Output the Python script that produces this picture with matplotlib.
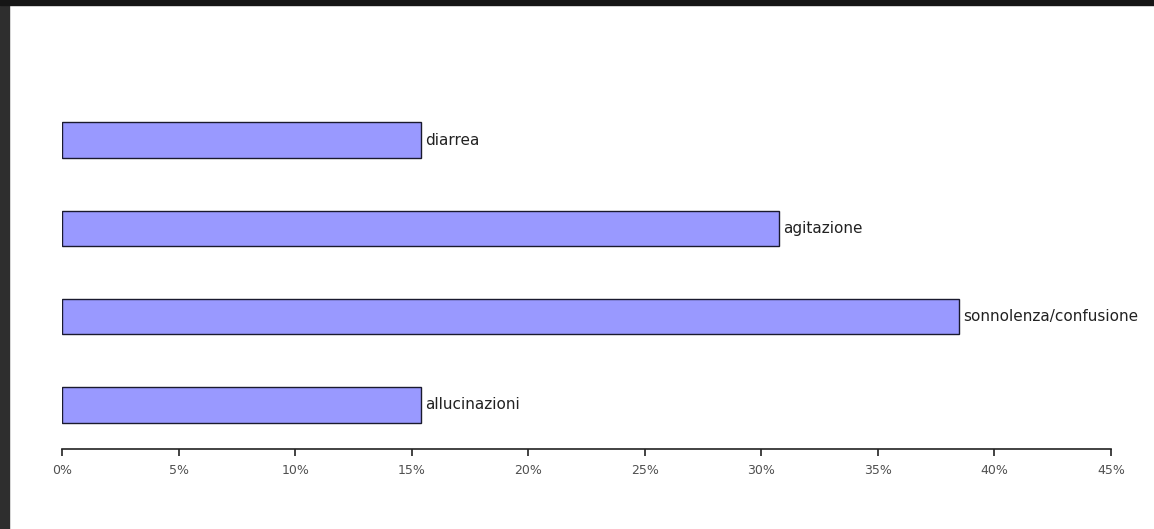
import matplotlib
matplotlib.use("Agg")
import matplotlib.pyplot as plt
from matplotlib.patches import Rectangle
from matplotlib.ticker import FuncFormatter, MultipleLocator

# data (share of patients, %)
categories = ["allucinazioni", "sonnolenza/confusione", "agitazione", "diarrea"]
values = [15.38, 38.46, 30.77, 15.38]

fig = plt.figure(figsize=(11.54, 5.29), dpi=100)
fig.patch.set_facecolor("white")

# dark screenshot frame on the top and left edges
fig.patches.append(Rectangle((0, 0), 9 / 1154, 1, transform=fig.transFigure,
                             color="#2e2e2e", zorder=0))
fig.patches.append(Rectangle((0, 1 - 5 / 529), 1, 5 / 529, transform=fig.transFigure,
                             color="#161616", zorder=0))

ax = fig.add_axes([62 / 1154, 80 / 529, (1111 - 62) / 1154, (449 - 96) / 529])

pos = range(len(categories))
ax.barh(pos, values, height=0.4, color="#9999ff", edgecolor="#1a1a2e", linewidth=1.0)

for y, v, name in zip(pos, values, categories):
    ax.annotate(name, (v, y), xytext=(3, 0), textcoords="offset points",
                va="center", ha="left", fontsize=11, color="#222222")

ax.set_xlim(0, 45)
ax.set_ylim(-0.5, len(categories) - 0.5)
ax.xaxis.set_major_locator(MultipleLocator(5))
ax.xaxis.set_major_formatter(FuncFormatter(lambda x, _: f"{x:.0f}%"))
ax.set_yticks([])

for side in ("left", "right", "top"):
    ax.spines[side].set_visible(False)
ax.spines["bottom"].set_color("#222222")
ax.spines["bottom"].set_linewidth(1.2)
ax.tick_params(axis="x", direction="out", length=5, width=1.2, color="#222222",
               labelsize=9, labelcolor="#505050", pad=6)

fig.savefig("out.png", dpi=100)
